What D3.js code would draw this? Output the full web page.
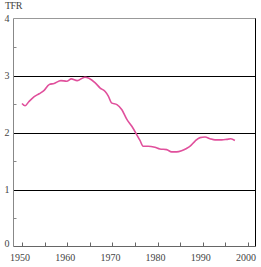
<!DOCTYPE html>
<html lang="en">
<head>
    <meta charset="UTF-8">
    <title>TFR</title>
    <script src="https://d3js.org/d3.v7.min.js"></script>
    <style>
        * { margin: 0; padding: 0; }
        body { background: white; }
        svg { display: block; }
        text { font-family: "Liberation Serif", "DejaVu Serif", serif; font-size: 10px; fill: #444; }
    </style>
</head>
<body>
    <svg width="261" height="267"></svg>
    <script>
        // TFR
        const years = [1950.0, 1950.7, 1951.5, 1952.7, 1953.8, 1954.9, 1956.0, 1957.1, 1958.6, 1959.9,
                       1960.9, 1962.2, 1963.9, 1964.8, 1966.2, 1967.3, 1968.4, 1969.1, 1969.8, 1971.0,
                       1972.1, 1973.2, 1974.3, 1975.4, 1976.1, 1976.8, 1977.9, 1979.4, 1980.5, 1982.0,
                       1983.1, 1984.2, 1985.3, 1986.4, 1987.2, 1988.3, 1989.4, 1990.5, 1991.6, 1992.7,
                       1994.2, 1995.3, 1996.2, 1997.1];
        const tfr = [2.51, 2.47, 2.54, 2.63, 2.68, 2.74, 2.84, 2.86, 2.91, 2.90,
                     2.94, 2.91, 2.97, 2.95, 2.87, 2.78, 2.72, 2.64, 2.52, 2.49,
                     2.40, 2.23, 2.11, 1.96, 1.86, 1.76, 1.76, 1.74, 1.71, 1.70,
                     1.66, 1.66, 1.68, 1.72, 1.76, 1.85, 1.91, 1.92, 1.89, 1.87,
                     1.87, 1.88, 1.89, 1.86];
        const xTicks = [1950, 1960, 1970, 1980, 1990, 2000];
        const xMinor = [1955, 1965, 1975, 1985, 1995];
        const yTicks = [0, 1, 2, 3, 4];
        const yMinor = [0.5, 1.5, 2.5, 3.5];

        const svg = d3.select("svg");
        const plotL = 13.5, plotR = 256, plotT = 18.5, plotB = 246.5;

        const x = d3.scaleLinear().domain([1950, 2000]).range([22, 248]);
        const y = d3.scaleLinear().domain([0, 4]).range([plotB, plotT]);

        // gridlines at integer values
        svg.append("g")
            .selectAll("line")
            .data([1, 2, 3])
            .join("line")
            .attr("x1", plotL).attr("x2", plotR)
            .attr("y1", d => Math.round(y(d)) + 0.5)
            .attr("y2", d => Math.round(y(d)) + 0.5)
            .attr("stroke", "#000");

        // frame
        svg.append("line").attr("x1", plotL).attr("x2", plotR).attr("y1", plotT).attr("y2", plotT).attr("stroke", "#999");
        svg.append("line").attr("x1", plotR - 0.5).attr("x2", plotR - 0.5).attr("y1", plotT).attr("y2", plotB).attr("stroke", "#000");
        svg.append("line").attr("x1", plotL).attr("x2", plotL).attr("y1", plotT).attr("y2", plotB).attr("stroke", "#888");
        svg.append("line").attr("x1", plotL).attr("x2", plotR).attr("y1", plotB).attr("y2", plotB).attr("stroke", "#666");

        // minor y ticks
        svg.append("g")
            .selectAll("line")
            .data(yMinor)
            .join("line")
            .attr("x1", plotL).attr("x2", plotL + 3)
            .attr("y1", d => Math.round(y(d)) + 0.5)
            .attr("y2", d => Math.round(y(d)) + 0.5)
            .attr("stroke", "#888");

        // x ticks (inside, upward)
        svg.append("g")
            .selectAll("line")
            .data(xTicks.concat(xMinor))
            .join("line")
            .attr("x1", d => Math.round(x(d)) + 0.5)
            .attr("x2", d => Math.round(x(d)) + 0.5)
            .attr("y1", plotB).attr("y2", plotB - 4)
            .attr("stroke", "#666");

        // y labels
        svg.append("g")
            .selectAll("text")
            .data(yTicks)
            .join("text")
            .attr("x", 7)
            .attr("y", d => d === 0 ? y(d) : y(d) + 3.5)
            .attr("text-anchor", "middle")
            .text(d => d);

        // x labels
        svg.append("g")
            .selectAll("text")
            .data(xTicks)
            .join("text")
            .attr("x", d => x(d) - 2)
            .attr("y", 261)
            .attr("text-anchor", "middle")
            .text(d => d);

        svg.append("text").attr("x", 5).attr("y", 8.5).attr("letter-spacing", "-0.5").text("TFR");

        // the line
        const line = d3.line()
            .x((d, i) => x(years[i]))
            .y(d => y(d))
            .curve(d3.curveMonotoneX);

        svg.append("path")
            .datum(tfr)
            .attr("d", line)
            .attr("fill", "none")
            .attr("stroke", "#e0509c")
            .attr("stroke-width", 1.6);
    </script>
</body>
</html>
